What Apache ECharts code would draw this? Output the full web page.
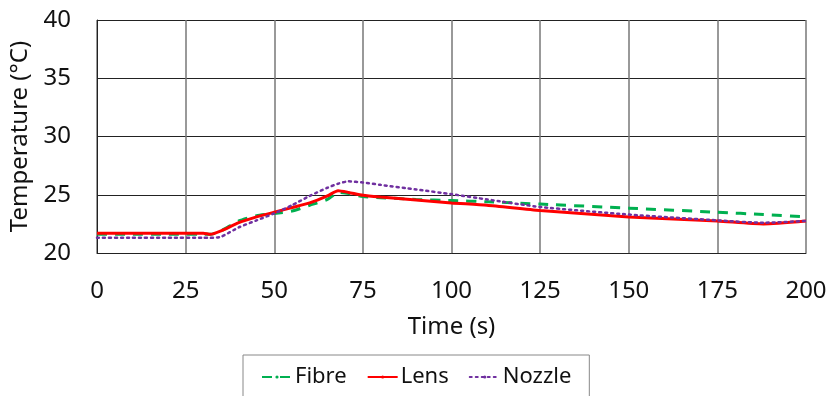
<!DOCTYPE html>
<html>
<head>
<meta charset="utf-8">
<script src="https://cdn.jsdelivr.net/npm/echarts@6/dist/echarts.min.js"></script>
<style>
  html, body { margin: 0; padding: 0; background: #fff; }
  #chart { width: 830px; height: 396px; }
</style>
</head>
<body>
<div id="chart"></div>
<script>
var timeS = [0, 10, 20, 30, 32, 35, 40, 45, 50, 55, 60, 65, 68, 71, 75, 80, 90, 100, 110, 125, 150, 175, 188, 200];
var fibre = [21.6, 21.6, 21.6, 21.6, 21.6, 21.9, 22.75, 23.2, 23.4, 23.6, 24.1, 24.6, 25.2, 25.1, 24.85, 24.75, 24.6, 24.5, 24.4, 24.2, 23.85, 23.5, 23.3, 23.1];
var lens = [21.7, 21.7, 21.7, 21.7, 21.6, 21.9, 22.6, 23.1, 23.5, 23.9, 24.3, 24.9, 25.35, 25.2, 24.95, 24.8, 24.55, 24.3, 24.1, 23.65, 23.1, 22.75, 22.5, 22.75];
var nozzle = [21.3, 21.3, 21.3, 21.3, 21.3, 21.4, 22.2, 22.8, 23.4, 24.1, 24.9, 25.6, 25.95, 26.15, 26.05, 25.85, 25.45, 25.05, 24.6, 23.95, 23.3, 22.8, 22.6, 22.75];

function pairs(vals) {
  return timeS.map(function (t, i) { return [t, vals[i]]; });
}

var chart = echarts.init(document.getElementById('chart'));
var fontFam = '"Noto Sans", "Open Sans", sans-serif';

var option = {
  animation: false,
  textStyle: { fontFamily: fontFam },
  grid: { left: 97, right: 24, top: 20, bottom: 143 },
  legend: {
    data: ['Fibre', 'Lens', 'Nozzle'],
    left: 243,
    top: 355,
    padding: [11, 18, 20, 18],
    borderColor: '#888',
    borderWidth: 1,
    itemWidth: 30,
    itemHeight: 4,
    itemGap: 20,
    textStyle: { fontSize: 22, color: '#111', fontFamily: fontFam, padding: [0, 0, 0, -2] }
  },
  xAxis: {
    type: 'value',
    min: 0,
    max: 200,
    interval: 25,
    name: 'Time (s)',
    nameLocation: 'middle',
    nameGap: 62,
    nameTextStyle: { fontSize: 24, color: '#111' },
    axisLine: { lineStyle: { color: '#222' } },
    axisTick: { show: false },
    axisLabel: { fontSize: 24, color: '#111', margin: 26 },
    splitLine: { lineStyle: { color: '#777', width: 1.5 } }
  },
  yAxis: {
    type: 'value',
    min: 20,
    max: 40,
    interval: 5,
    name: 'Temperature (°C)',
    nameLocation: 'middle',
    nameGap: 61,
    nameTextStyle: { fontSize: 24, color: '#111' },
    axisLine: { show: true, lineStyle: { color: '#222' } },
    axisTick: { show: false },
    axisLabel: { fontSize: 24, color: '#111', margin: 26 },
    splitLine: { lineStyle: { color: '#222', width: 1 } }
  },
  series: [
    {
      name: 'Fibre',
      type: 'line',
      symbol: 'none',
      smooth: 0.2,
      data: pairs(fibre),
      itemStyle: { color: '#00B050' },
      lineStyle: { color: '#00B050', width: 3, type: [10, 8] }
    },
    {
      name: 'Lens',
      type: 'line',
      symbol: 'none',
      smooth: 0.2,
      data: pairs(lens),
      itemStyle: { color: '#FF0000' },
      lineStyle: { color: '#FF0000', width: 3 }
    },
    {
      name: 'Nozzle',
      type: 'line',
      symbol: 'none',
      smooth: 0.2,
      data: pairs(nozzle),
      itemStyle: { color: '#7030A0' },
      lineStyle: { color: '#7030A0', width: 2.5, type: [2, 4], cap: 'round' }
    }
  ]
};

chart.setOption(option);
</script>
</body>
</html>
